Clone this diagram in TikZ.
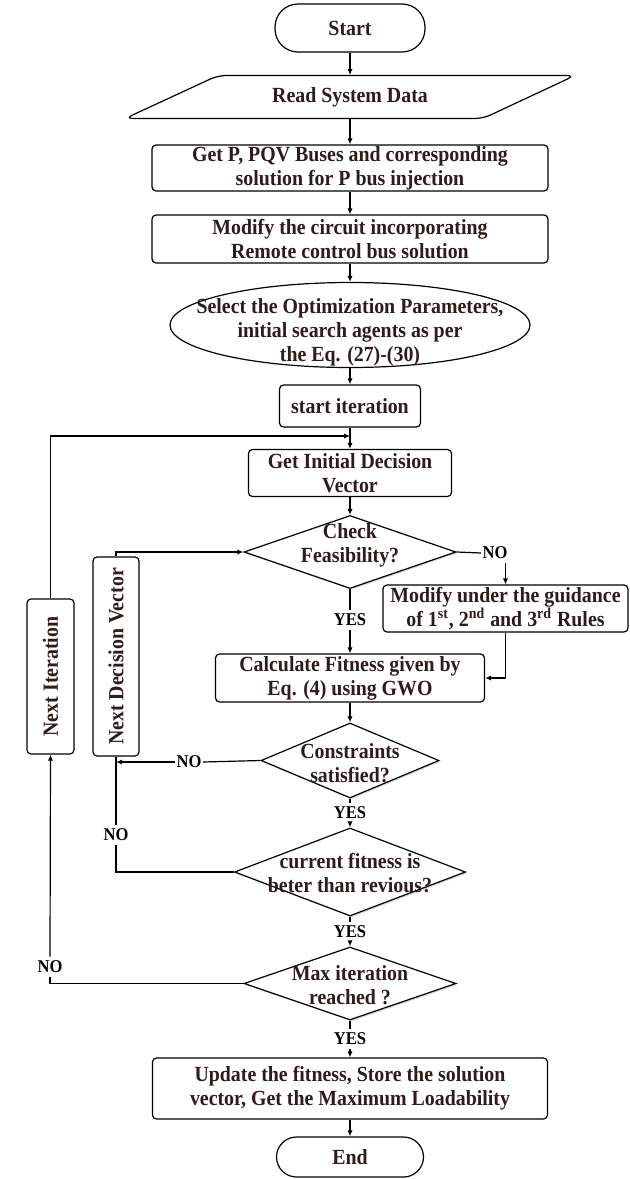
\documentclass[tikz,border=0pt]{standalone}
\usepackage{fontspec}
\setmainfont{Liberation Serif}[FakeStretch=0.92]
\usepackage{xcolor}
\usetikzlibrary{shapes.geometric, arrows.meta, shadows}
\definecolor{txtbrown}{RGB}{48,26,26}

\begin{document}
\begin{tikzpicture}[x=0.5pt, y=-0.5pt,
	every node/.style={font=\fontsize{10.8}{12}\selectfont\bfseries, text=txtbrown, align=center, inner sep=0pt},
	box/.style={draw, rectangle, rounded corners=2pt, line width=0.6pt},
	term/.style={draw, rectangle, rounded corners=11.5pt, line width=0.6pt},
	dec/.style={draw, diamond, line width=0.6pt, fill=white, drop shadow={shadow xshift=0.7pt, shadow yshift=-0.7pt, opacity=0.3}},
	lbl/.style={font=\fontsize{9}{10}\selectfont\bfseries, text=black, inner xsep=0.5pt, inner ysep=2pt},
	arr/.style={-{Latex[length=3pt,width=2.6pt]}, line width=0.6pt},
	ln/.style={line width=0.6pt}]

	\useasboundingbox (0,0) rectangle (630,1179);

	\node[term, minimum width=75pt, minimum height=24pt] (start) at (350,28) {Start};
	\node[minimum width=225pt, minimum height=21.5pt] (read) at (350,97) {Read System Data};
	\draw[ln, rounded corners=4pt, shift={(read.center)}] (-132,-21.5) -- (225,-21.5) -- (133,21.5) -- (-225,21.5) -- cycle;
	\node[box, minimum width=198pt, minimum height=23pt] (getp) at (350,168) {Get P, PQV Buses and corresponding\\solution for P bus injection};
	\node[box, minimum width=198pt, minimum height=24pt] (modc) at (350,239) {Modify the circuit incorporating\\Remote control bus solution};
	\node[draw, ellipse, line width=0.6pt, minimum width=180pt, minimum height=42.5pt] (sel) at (350,325) {};
	\node (selt) at (350,332) {Select the Optimization Parameters,\\initial search agents as per\\the Eq. (27)-(30)};
	\node[box, minimum width=70.5pt, minimum height=21pt] (sit) at (350,406) {start iteration};
	\node[box, minimum width=101.5pt, minimum height=23.5pt] (gidv) at (350,473) {Get Initial Decision\\Vector};

	\node[dec, minimum width=106pt, minimum height=36.5pt] (chk) at (350,552) {};
	\node (chkt) at (350,545) {Check\\Feasibility?};
	\node[box, minimum width=122.5pt, minimum height=23.5pt] (modg) at (505.5,608.5) {Modify under the guidance\\of 1\textsuperscript{st}, 2\textsuperscript{nd} and 3\textsuperscript{rd} Rules};
	\node[box, minimum width=134.5pt, minimum height=24pt] (calc) at (350,678) {Calculate Fitness given by\\Eq. (4) using GWO};
	\node[dec, minimum width=89pt, minimum height=37.5pt] (cons) at (350,760.5) {};
	\node (const) at (350,763) {Constraints\\satisfied?};
	\node[dec, minimum width=115.5pt, minimum height=44pt] (curf) at (350,872) {};
	\node (curft) at (350,873.5) {current fitness is\\beter than revious?};
	\node[dec, minimum width=106pt, minimum height=36.5pt] (maxi) at (350,983.5) {};
	\node (maxit) at (350,985.5) {Max iteration\\reached ?};
	\node[box, minimum width=197.5pt, minimum height=30.5pt] (upd) at (350,1088.5) {Update the fitness, Store the solution\\vector, Get the Maximum Loadability};
	\node[term, rounded corners=10pt, minimum width=73.5pt, minimum height=20pt] (fin) at (350,1157) {End};

	\node[box, minimum width=23.5pt, minimum height=77.5pt] (nit) at (50.5,676.5) {\rotatebox{90}{Next Iteration}};
	\node[box, minimum width=23pt, minimum height=99.5pt] (ndv) at (116,656.5) {\rotatebox{90}{Next Decision Vector}};

	\node[lbl] (no1) at (495,553) {NO};
	\node[lbl] (yes1) at (350,620) {YES};
	\node[lbl] (no2) at (189,762) {NO};
	\node[lbl] (yes2) at (350,813) {YES};
	\node[lbl] (no3) at (116,835) {NO};
	\node[lbl] (yes3) at (350,932) {YES};
	\node[lbl] (no4) at (50,967) {NO};
	\node[lbl] (yes4) at (350,1039) {YES};

	\coordinate (j1) at (350,436);
	\coordinate (j2) at (116,762);

	\draw[arr] (start.south) -- (read.north);
	\draw[arr] (read.south) -- (getp.north);
	\draw[arr] (getp.south) -- (modc.north);
	\draw[arr] (modc.south) -- (sel.north);
	\draw[arr] (sel.south) -- (sit.north);
	\draw[arr] (sit.south) -- (gidv.north);
	\draw[arr] (gidv.south) -- (chk.north);

	\draw[ln] (chk.east) -- (no1.west);
	\draw[arr] (no1.south -| modg.north) -- (modg.north);
	\draw[arr] (modg.south) |- (calc.east);
	\draw[ln] (chk.south) -- (yes1.north);
	\draw[arr] (yes1.south) -- (calc.north);
	\draw[arr] (calc.south) -- (cons.north);

	\draw[ln] (cons.west) -- (no2.east);
	\draw[arr] (no2.west) -- (j2);
	\draw[ln] (cons.south) -- (yes2.north);
	\draw[arr] (yes2.south) -- (curf.north);
	\draw[ln] (curf.west) -| (no3.south);
	\draw[ln] (no3.north) -- (ndv.south);
	\draw[arr] (ndv.north) |- (chk.west);

	\draw[ln] (curf.south) -- (yes3.north);
	\draw[arr] (yes3.south) -- (maxi.north);
	\draw[ln] (maxi.west) -| (no4.south);
	\draw[arr] (no4.north) -- (nit.south);
	\draw[arr] (nit.north) |- (j1);

	\draw[ln] (maxi.south) -- (yes4.north);
	\draw[arr] (yes4.south) -- (upd.north);
	\draw[arr] (upd.south) -- (fin.north);

\end{tikzpicture}
\end{document}
